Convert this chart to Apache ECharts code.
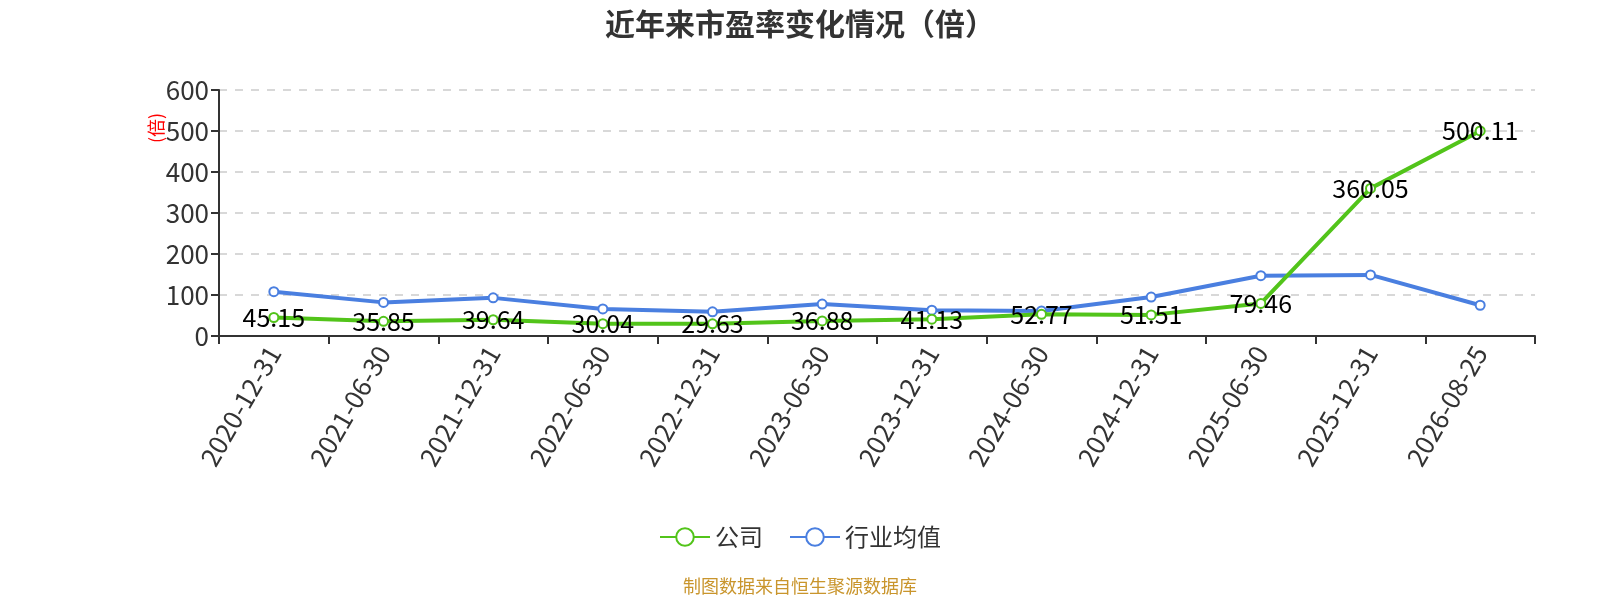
<!DOCTYPE html>
<html>
<head>
<meta charset="utf-8">
<title>近年来市盈率变化情况（倍）</title>
<script src="https://cdn.jsdelivr.net/npm/echarts@6/dist/echarts.min.js"></script>
<style>
  html, body { margin: 0; padding: 0; background: #fff; }
  #chart { width: 1600px; height: 600px; }
</style>
</head>
<body>
<div id="chart"></div>
<script>
// 数据
var dates = ['2020-12-31', '2021-06-30', '2021-12-31', '2022-06-30', '2022-12-31', '2023-06-30',
  '2023-12-31', '2024-06-30', '2024-12-31', '2025-06-30', '2025-12-31', '2026-08-25'];
var companyPE = [45.15, 35.85, 39.64, 30.04, 29.63, 36.88, 41.13, 52.77, 51.51, 79.46, 360.05, 500.11];
var industryPE = [108, 82, 93, 66, 59, 78, 63, 61, 95, 147, 149, 75];
var yTicks = [0, 100, 200, 300, 400, 500, 600];

(function() {
  var myChart = echarts.init(document.getElementById('chart'));
  var font = '"Noto Sans CJK SC", "Noto Sans", sans-serif';
  var option = {
    color: ['#52c41a', '#4a7fe0'],
    textStyle: { fontFamily: font },
    title: {
      text: '近年来市盈率变化情况（倍）',
      left: 'center',
      top: 4,
      textStyle: { fontSize: 30, fontWeight: 'bold', color: '#333', fontFamily: font }
    },
    legend: {
      data: ['公司', '行业均值'],
      left: 'center',
      top: 520,
      itemWidth: 50,
      itemHeight: 22,
      itemGap: 26,
      textStyle: { fontSize: 24, color: '#333' }
    },
    graphic: [
      {
        type: 'text',
        x: 156,
        y: 128,
        rotation: Math.PI / 2,
        style: {
          text: '(倍)',
          fill: '#ff0000',
          fontSize: 18,
          fontFamily: font,
          align: 'center',
          verticalAlign: 'middle'
        }
      },
      {
        type: 'text',
        left: 'center',
        top: 577,
        style: {
          text: '制图数据来自恒生聚源数据库',
          fill: '#c9952c',
          fontSize: 18,
          fontFamily: font
        }
      }
    ],
    grid: {
      left: 219,
      right: 65,
      top: 90,
      bottom: 264
    },
    xAxis: {
      type: 'category',
      data: dates,
      axisLine: { lineStyle: { color: '#333', width: 2 } },
      axisTick: { show: true, length: 8, lineStyle: { color: '#333', width: 2 } },
      axisLabel: { rotate: 60, fontSize: 26, color: '#333', margin: 12, interval: 0 }
    },
    yAxis: {
      type: 'value',
      min: yTicks[0],
      max: yTicks[yTicks.length - 1],
      interval: 100,
      axisLine: { show: true, lineStyle: { color: '#333', width: 2 } },
      axisTick: { show: true, length: 8, lineStyle: { color: '#333', width: 2 } },
      axisLabel: { fontSize: 26, color: '#333', margin: 10 },
      splitLine: { lineStyle: { color: '#ccc', type: [8, 8], width: 1.5 } }
    },
    series: [
      {
        name: '公司',
        type: 'line',
        data: companyPE,
        symbol: 'emptyCircle',
        symbolSize: 9,
        lineStyle: { width: 4 },
        itemStyle: { borderWidth: 2 },
        label: {
          show: true,
          position: 'inside',
          fontSize: 25,
          color: '#000',
          formatter: function(p) { return p.value.toFixed(2); }
        },
        z: 3
      },
      {
        name: '行业均值',
        type: 'line',
        data: industryPE,
        symbol: 'emptyCircle',
        symbolSize: 9,
        lineStyle: { width: 4 },
        itemStyle: { borderWidth: 2 },
        z: 2
      }
    ]
  };
  myChart.setOption(option);
  window.addEventListener('resize', function() {
    myChart.resize();
  });
})();
</script>
</body>
</html>
